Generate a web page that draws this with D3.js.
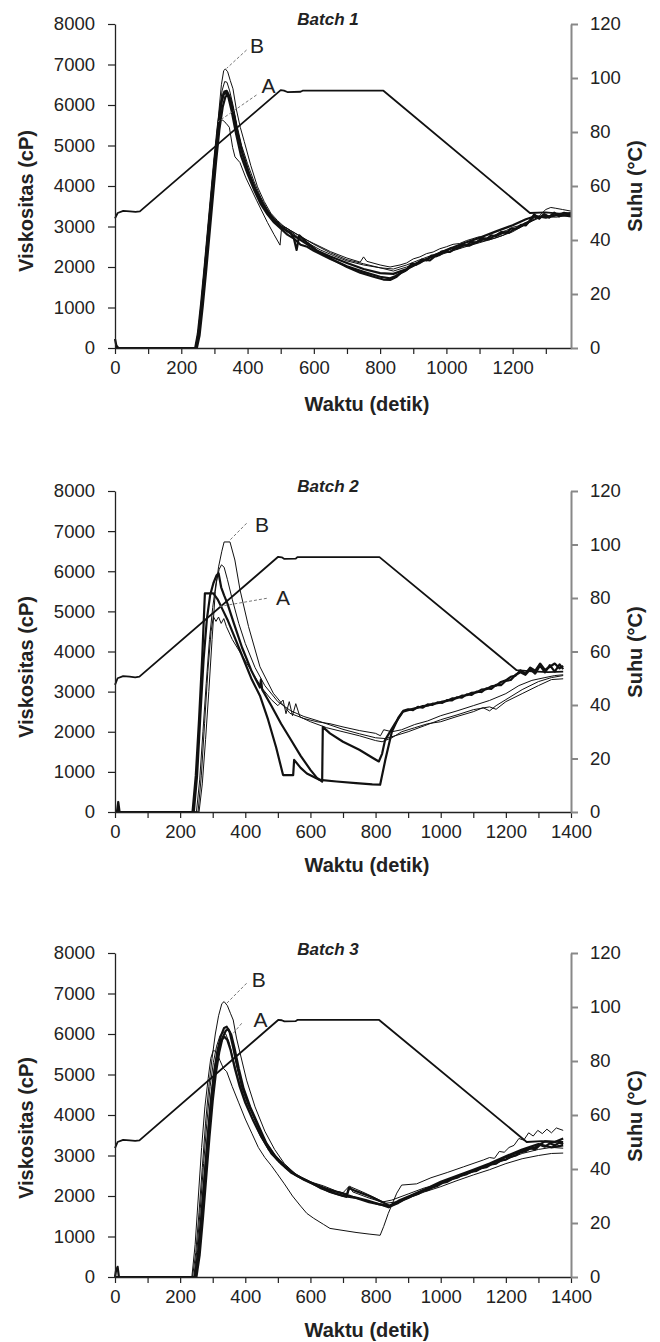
<!DOCTYPE html>
<html><head>
<meta charset="utf-8">
<title>Viskositas dan suhu per batch</title>
<script src="https://d3js.org/d3.v7.min.js"></script>
<style>
  body { margin: 0; background: #fff; }
  text { font-family: "Liberation Sans", Arial, sans-serif; fill: #222; }
  .tick text { font-size: 18.5px; }
  .axis-title { font-size: 20px; font-weight: bold; }
  .batch-title { font-size: 17px; font-weight: bold; font-style: italic; }
  .ab-label { font-size: 21px; }
  path.visc { fill: none; stroke: #111; stroke-linejoin: round; }
  path.temp { fill: none; stroke: #111; stroke-width: 1.8px; stroke-linejoin: round; }
  line.leader { stroke: #777; stroke-width: 1px; stroke-dasharray: 3 2; }
</style>
</head>
<body>
<svg id="chart" width="660" height="1342"></svg>

<script>
// ---- data: [waktu (detik), viskositas (cP)] or [waktu, suhu (°C)] ----

// Batch 1
const b1_temp = [[0,48],[8,50],[25,50.8],[45,50.6],[62,50.4],[75,50.6],[500,95.5],[510,95.3],[520,94.8],[560,94.9],[566,95.3],[810,95.3],[1252,50],[1300,50.2],[1340,49.8],[1376,50]];
const b1_s1 = [[0,220],[4,60],[10,0],[242,0],[250,350],[260,1100],[270,1950],[280,2850],[290,3750],[300,4650],[310,5450],[320,6050],[328,6280],[335,6300],[342,6200],[352,5850],[365,5300],[380,4750],[400,4300],[420,3900],[440,3550],[460,3300],[480,3100],[500,2950],[520,2800],[540,2700],[560,2550],[580,2500],[600,2400],[650,2200],[700,2020],[750,1880],[800,1760],[830,1720],[845,1770],[860,1840],[875,1900],[890,1990],[905,2050],[920,2100],[935,2180],[950,2160],[965,2260],[980,2300],[995,2380],[1010,2370],[1025,2450],[1040,2480],[1055,2540],[1070,2530],[1085,2600],[1100,2640],[1115,2700],[1130,2690],[1145,2770],[1160,2800],[1175,2860],[1190,2850],[1205,2940],[1220,2980],[1235,3060],[1250,3120],[1265,3250],[1280,3210],[1295,3300],[1310,3240],[1325,3320],[1340,3280],[1355,3340],[1376,3290]];
const b1_s2 = [[0,0],[247,0],[255,300],[265,1050],[275,1900],[285,2800],[295,3700],[305,4600],[315,5400],[325,5950],[333,6200],[340,6250],[348,6150],[358,5800],[370,5300],[385,4800],[405,4300],[425,3900],[445,3580],[465,3320],[485,3120],[505,2970],[530,2850],[540,2700],[548,2420],[556,2780],[580,2600],[610,2400],[650,2260],[700,2100],[750,1950],[800,1850],[840,1830],[880,1950],[920,2120],[960,2270],[1000,2420],[1050,2580],[1100,2720],[1150,2880],[1200,3030],[1240,3180],[1270,3260],[1300,3220],[1340,3290],[1376,3250]];
const b1_s3 = [[0,0],[244,0],[252,350],[262,1100],[272,2000],[282,2900],[292,3800],[302,4700],[312,5500],[322,6100],[330,6330],[337,6350],[345,6220],[355,5900],[368,5350],[383,4850],[400,4400],[420,3980],[440,3620],[460,3350],[480,3150],[500,3000],[520,2880],[550,2720],[580,2560],[620,2350],[660,2170],[700,2000],[740,1860],[780,1760],[810,1690],[830,1680],[850,1760],[865,1870],[880,1930],[895,2080],[910,2060],[925,2180],[940,2160],[955,2280],[970,2270],[985,2380],[1000,2400],[1015,2470],[1030,2450],[1045,2550],[1060,2530],[1075,2620],[1090,2600],[1105,2700],[1120,2680],[1135,2780],[1150,2760],[1165,2860],[1180,2840],[1195,2950],[1210,2940],[1225,3040],[1240,3030],[1255,3180],[1265,3300],[1280,3190],[1295,3300],[1310,3220],[1325,3340],[1340,3250],[1355,3330],[1376,3280]];
const b1_B = [[0,0],[245,0],[253,350],[263,1150],[273,2050],[283,2950],[293,3900],[303,4850],[313,5800],[321,6500],[328,6850],[333,6890],[340,6820],[348,6600],[356,6400],[366,5900],[378,5450],[390,5100],[410,4500],[430,3980],[450,3620],[470,3330],[490,3150],[510,3000],[540,2850],[570,2700],[600,2580],[650,2380],[700,2220],[740,2120],[750,2250],[760,2140],[800,2050],[830,2000],[860,2050],[880,2100],[900,2200],[920,2250],[940,2330],[960,2370],[980,2450],[1000,2500],[1020,2560],[1040,2580],[1060,2650],[1080,2700],[1100,2750],[1115,2720],[1130,2700],[1145,2780],[1160,2850],[1180,2900],[1200,2980],[1220,3020],[1240,3100],[1260,3150],[1280,3260],[1300,3420],[1315,3470],[1330,3450],[1350,3420],[1376,3380]];
const b1_s5 = [[0,0],[246,0],[254,350],[264,1100],[274,2000],[284,2900],[294,3850],[304,4800],[314,5700],[323,6350],[331,6580],[338,6560],[346,6350],[356,6000],[368,5500],[382,5000],[400,4550],[420,4100],[440,3720],[460,3420],[480,3200],[500,3050],[530,2900],[560,2760],[600,2560],[650,2350],[700,2180],[750,2080],[800,1980],[840,1950],[880,2050],[920,2180],[960,2300],[1000,2420],[1050,2520],[1100,2620],[1140,2700],[1170,2780],[1200,2900],[1240,3050],[1270,3200],[1300,3250],[1340,3300],[1376,3280]];
const b1_A = [[0,0],[243,0],[251,400],[261,1200],[271,2100],[281,3000],[291,3900],[301,4800],[311,5450],[318,5650],[326,5620],[335,5550],[345,5450],[355,4950],[362,4720],[377,4580],[395,4200],[427,3650],[460,3100],[480,2800],[498,2540],[503,3000],[520,2950],[550,2750],[580,2600],[620,2420],[660,2280],[700,2150],[750,2050],[800,1980],[840,1900],[880,2000],[920,2150],[960,2250],[1000,2350],[1050,2480],[1100,2600],[1150,2720],[1200,2870],[1250,3100],[1290,3250],[1330,3230],[1376,3280]];

// Batch 2
const b2_temp = [[0,47.5],[8,50],[25,50.8],[45,50.6],[62,50.3],[75,50.6],[501,95.4],[512,95.2],[520,94.6],[555,94.7],[560,95.3],[812,95.3],[1233,53],[1280,52.6],[1330,52.3],[1376,52.5]];
const b2_B = [[0,0],[258,0],[268,700],[278,1800],[288,3000],[298,4300],[308,5500],[318,6110],[328,6500],[335,6730],[353,6730],[368,6280],[384,5530],[410,4620],[445,3620],[486,2960],[537,2460],[580,2330],[620,2250],[660,2200],[700,2120],[750,2030],[800,1960],[815,1900],[825,2050],[850,2000],[880,2050],[920,2180],[960,2270],[1000,2400],[1050,2520],[1100,2650],[1150,2780],[1200,2950],[1240,3150],[1280,3280],[1320,3350],[1350,3400],[1376,3420]];
const b2_s2 = [[0,0],[250,0],[260,800],[270,2000],[280,3200],[290,4300],[300,5100],[310,5700],[320,6050],[327,6160],[335,6100],[345,5800],[360,5300],[380,4700],[400,4200],[430,3600],[460,3150],[500,2750],[540,2520],[580,2380],[620,2280],[660,2170],[700,2060],[750,1950],[800,1850],[830,1830],[860,1900],[900,2000],[950,2150],[1000,2300],[1050,2420],[1100,2550],[1150,2620],[1170,2560],[1200,2750],[1250,2950],[1300,3150],[1340,3300],[1376,3320]];
const b2_A = [[0,0],[255,0],[265,900],[275,2200],[285,3500],[295,4500],[302,4870],[310,4750],[318,4860],[326,4700],[334,4820],[342,4620],[360,4300],[390,3900],[420,3500],[450,3100],[480,2800],[500,2650],[516,2790],[525,2450],[535,2750],[545,2400],[555,2700],[568,2370],[600,2250],[650,2100],[700,2000],[750,1900],[800,1780],[820,1750],[850,1850],[880,2000],[920,2100],[960,2200],[1000,2250],[1050,2380],[1100,2500],[1130,2600],[1150,2520],[1170,2650],[1200,2800],[1250,3050],[1300,3250],[1340,3350],[1376,3400]];
const b2_s4 = [[0,0],[6,0],[10,250],[14,0],[238,0],[248,900],[258,2300],[268,3900],[276,5450],[302,5450],[315,5300],[330,5050],[345,4800],[365,4400],[390,3900],[420,3300],[445,2900],[470,2300],[495,1600],[516,920],[547,920],[550,1300],[570,1100],[589,960],[629,800],[680,760],[740,720],[790,690],[814,680],[830,1300],[850,2000],[870,2350],[885,2520],[900,2560],[915,2540],[930,2620],[945,2600],[960,2680],[975,2670],[990,2730],[1005,2720],[1020,2790],[1035,2780],[1050,2860],[1065,2850],[1080,2930],[1095,2920],[1110,3000],[1125,2990],[1140,3080],[1155,3070],[1170,3170],[1185,3160],[1200,3270],[1215,3290],[1230,3420],[1245,3480],[1260,3420],[1275,3560],[1290,3450],[1305,3650],[1320,3480],[1335,3660],[1350,3500],[1365,3680],[1376,3560]];
const b2_s5 = [[0,0],[242,0],[252,900],[262,2400],[272,3800],[282,4800],[292,5400],[302,5700],[312,5900],[318,5950],[326,5600],[335,5400],[345,5200],[365,4700],[390,4100],[420,3500],[445,3100],[448,3300],[452,3050],[480,2650],[510,2200],[540,1800],[570,1400],[600,1050],[620,850],[636,760],[638,2120],[660,1960],[700,1750],[750,1550],[793,1340],[810,1260],[820,1450],[829,1790],[860,2210],[884,2500],[900,2540],[915,2570],[930,2600],[945,2640],[960,2650],[975,2700],[990,2710],[1005,2750],[1020,2770],[1035,2830],[1050,2840],[1065,2900],[1080,2910],[1095,2970],[1110,2980],[1125,3050],[1140,3060],[1155,3130],[1170,3150],[1185,3240],[1200,3280],[1215,3370],[1230,3400],[1245,3530],[1260,3450],[1275,3600],[1290,3520],[1305,3700],[1320,3540],[1335,3620],[1350,3700],[1365,3580],[1376,3640]];

// Batch 3
const b3_temp = [[0,47.7],[8,50],[25,50.8],[45,50.6],[62,50.4],[75,50.6],[501,95.2],[512,95.1],[520,94.7],[555,94.8],[560,95.2],[811,95.2],[1264,50],[1310,50.3],[1376,50]];
const b3_B = [[0,0],[238,0],[248,600],[258,1600],[268,2700],[278,3800],[288,4700],[298,5400],[308,6000],[318,6450],[328,6750],[335,6800],[345,6700],[355,6500],[363,6345],[373,5900],[384,5530],[404,4860],[430,4200],[460,3600],[490,3150],[520,2800],[560,2500],[600,2320],[650,2150],[700,2080],[720,2250],[730,2100],[780,1950],[820,1850],[850,1900],[900,2050],[950,2200],[1000,2300],[1050,2450],[1100,2600],[1150,2750],[1200,2900],[1250,3050],[1300,3150],[1340,3200],[1376,3180]];
const b3_s2 = [[0,0],[3,150],[8,250],[12,0],[245,0],[255,600],[265,1500],[275,2500],[285,3500],[295,4400],[305,5100],[315,5600],[325,5950],[335,6150],[343,6180],[352,6050],[362,5700],[375,5200],[390,4700],[410,4250],[435,3800],[460,3350],[490,3000],[520,2750],[550,2550],[580,2400],[620,2250],[660,2100],[700,2000],[740,1950],[780,1850],[820,1780],[840,1720],[855,1780],[870,1830],[885,1900],[900,1950],[915,2010],[930,2050],[945,2120],[960,2150],[975,2210],[990,2250],[1005,2320],[1020,2350],[1035,2420],[1050,2450],[1065,2510],[1080,2540],[1095,2600],[1110,2620],[1125,2690],[1140,2710],[1155,2780],[1170,2800],[1185,2880],[1200,2900],[1215,2970],[1230,3000],[1245,3080],[1260,3100],[1275,3180],[1290,3150],[1305,3260],[1320,3220],[1335,3300],[1350,3250],[1365,3320],[1376,3280]];
const b3_s3 = [[0,0],[250,0],[260,550],[270,1450],[280,2450],[290,3450],[300,4350],[310,5050],[320,5550],[330,5900],[340,6080],[348,6120],[357,5980],[367,5650],[380,5150],[395,4650],[415,4200],[440,3750],[465,3300],[495,2950],[525,2700],[555,2520],[590,2380],[630,2200],[670,2080],[710,1980],[718,2200],[740,2120],[780,2000],[820,1850],[845,1750],[875,1870],[910,2000],[960,2180],[1000,2320],[1050,2480],[1100,2620],[1150,2780],[1200,2960],[1250,3120],[1290,3200],[1320,3350],[1350,3330],[1376,3420]];
const b3_s4 = [[0,0],[247,0],[257,650],[267,1600],[277,2600],[287,3600],[297,4500],[307,5150],[317,5600],[327,5850],[336,5930],[345,5850],[355,5600],[368,5150],[383,4700],[400,4300],[425,3850],[450,3450],[480,3050],[510,2800],[540,2580],[570,2450],[610,2300],[650,2180],[690,2080],[730,1980],[770,1900],[810,1800],[840,1750],[870,1880],[910,2020],[960,2200],[1000,2350],[1050,2500],[1100,2650],[1150,2800],[1200,2980],[1250,3150],[1300,3280],[1340,3200],[1376,3250]];
const b3_A = [[0,0],[236,0],[246,800],[256,2000],[266,3200],[276,4200],[286,4900],[294,5400],[302,5600],[312,5550],[322,5350],[333,5150],[343,5070],[360,4700],[380,4300],[400,3900],[420,3550],[440,3200],[460,2950],[480,2750],[497,2560],[520,2300],[545,2000],[570,1750],[589,1570],[610,1450],[640,1300],[660,1200],[700,1150],[740,1100],[780,1060],[814,1030],[825,1250],[839,1570],[865,2070],[880,2270],[926,2300],[970,2450],[1020,2580],[1070,2720],[1131,2890],[1150,2950],[1165,2930],[1180,3100],[1195,3080],[1210,3200],[1225,3250],[1240,3420],[1255,3380],[1270,3560],[1284,3480],[1298,3620],[1312,3540],[1326,3650],[1340,3560],[1355,3680],[1376,3620]];
const b3_s6 = [[0,0],[242,0],[252,700],[262,1700],[272,2800],[282,3800],[292,4700],[302,5300],[312,5700],[322,5950],[332,6050],[340,6000],[350,5800],[362,5400],[378,4900],[398,4400],[420,3950],[445,3500],[470,3150],[500,2850],[530,2650],[560,2480],[600,2350],[640,2250],[680,2120],[715,2050],[722,2230],[760,2100],[800,1950],[830,1820],[860,1850],[900,1950],[950,2100],[1000,2230],[1050,2380],[1100,2520],[1150,2650],[1200,2800],[1250,2920],[1300,3000],[1340,3050],[1376,3060]];

// axis tick values
const viscTicks = d3.range(0, 8001, 1000);
const tempTicks = d3.range(0, 121, 20);

// A / B annotations: text position, leader start, leader end (data units)
const b1_notes = [{txt: "B", at: [407, 7284], from: [397, 7358], to: [337, 6906]},
                  {txt: "A", at: [442, 6304], from: [427, 6247], to: [311, 5588]}];
const b2_notes = [{txt: "B", at: [430, 6986], from: [404, 7195], to: [348, 6736]},
                  {txt: "A", at: [494, 5159], from: [466, 5326], to: [317, 5117]}];
const b3_notes = [{txt: "B", at: [420, 7168], from: [404, 7252], to: [343, 6758]},
                  {txt: "A", at: [425, 6180], from: [389, 6264], to: [363, 6017]}];

// ---- layout of the three stacked panels ----
const panels = [
  { title: "Batch 1", top: 24,  bottom: 348,  xMax: 1376, xTicks: d3.range(0, 1301, 100),
    titleY: 25, xTitleY: 411, yTitleY: 201, sTitleY: 186,
    temp: b1_temp, notes: b1_notes,
    series: [[b1_A, 1], [b1_s5, 1], [b1_B, 1], [b1_s2, 2.2], [b1_s3, 2.2], [b1_s1, 2.2]] },
  { title: "Batch 2", top: 491, bottom: 812,  xMax: 1400, xTicks: d3.range(0, 1401, 100),
    titleY: 492, xTitleY: 872, yTitleY: 667, sTitleY: 652,
    temp: b2_temp, notes: b2_notes,
    series: [[b2_A, 1], [b2_s2, 1], [b2_B, 1], [b2_s4, 2.2], [b2_s5, 2.2]] },
  { title: "Batch 3", top: 953, bottom: 1277, xMax: 1400, xTicks: d3.range(0, 1401, 100),
    titleY: 955, xTitleY: 1337, yTitleY: 1128, sTitleY: 1116,
    temp: b3_temp, notes: b3_notes,
    series: [[b3_A, 1], [b3_s6, 1], [b3_B, 1], [b3_s4, 2.2], [b3_s3, 2.2], [b3_s2, 2.2]] }
];

const svg = d3.select("#chart");
const left = 115, right = 571;

panels.forEach(p => {
  const g = svg.append("g");

  const x = d3.scaleLinear().domain([0, p.xMax]).range([left, right]);
  const yV = d3.scaleLinear().domain([0, 8000]).range([p.bottom, p.top]);
  const yT = d3.scaleLinear().domain([0, 120]).range([p.bottom, p.top]);

  // viscosity curves
  const lineV = d3.line().x(d => x(d[0])).y(d => yV(d[1]));
  g.selectAll("path.visc").data(p.series)
    .join("path")
    .attr("class", "visc")
    .attr("stroke-width", d => d[1])
    .attr("d", d => lineV(d[0]));

  // temperature profile on the right axis
  const lineT = d3.line().x(d => x(d[0])).y(d => yT(d[1]));
  g.append("path").attr("class", "temp").attr("d", lineT(p.temp));

  // axes
  const xAxis = g.append("g")
    .attr("transform", `translate(0,${p.bottom})`)
    .call(d3.axisBottom(x).tickValues(p.xTicks).tickSize(6).tickSizeOuter(0).tickPadding(7)
            .tickFormat(d => d % 200 === 0 ? d : ""));
  xAxis.select(".domain").attr("stroke", "#222").attr("stroke-width", 1.3);
  xAxis.selectAll(".tick line").attr("stroke", "#222").attr("stroke-width", 1.2);

  const yAxisL = g.append("g")
    .attr("transform", `translate(${left},0)`)
    .call(d3.axisLeft(yV).tickValues(viscTicks).tickSize(7).tickSizeOuter(0).tickPadding(13)
            .tickFormat(d3.format("d")));
  yAxisL.select(".domain").attr("stroke", "#222").attr("stroke-width", 1.3);
  yAxisL.selectAll(".tick line").attr("stroke", "#222").attr("stroke-width", 1.2);

  const yAxisR = g.append("g")
    .attr("transform", `translate(${right},0)`)
    .call(d3.axisRight(yT).tickValues(tempTicks).tickSize(7).tickSizeOuter(0).tickPadding(12));
  yAxisR.select(".domain").attr("stroke", "#888").attr("stroke-width", 2);
  yAxisR.selectAll(".tick line").attr("stroke", "#888").attr("stroke-width", 2);

  g.selectAll(".tick text").attr("fill", "#222").style("font-family", "'Liberation Sans', Arial, sans-serif");
  g.selectAll(".tick text").attr("font-size", null);

  // titles
  g.append("text").attr("class", "batch-title")
    .attr("x", 328).attr("y", p.titleY).attr("text-anchor", "middle").text(p.title);
  g.append("text").attr("class", "axis-title")
    .attr("x", 367).attr("y", p.xTitleY).attr("text-anchor", "middle").text("Waktu (detik)");
  g.append("text").attr("class", "axis-title")
    .attr("transform", `translate(33,${p.yTitleY}) rotate(-90)`)
    .attr("text-anchor", "middle").text("Viskositas (cP)");
  g.append("text").attr("class", "axis-title")
    .attr("transform", `translate(642,${p.sTitleY}) rotate(-90)`)
    .attr("text-anchor", "middle").text("Suhu (°C)");

  // A / B leaders and labels
  g.selectAll("line.leader").data(p.notes).join("line")
    .attr("class", "leader")
    .attr("x1", d => x(d.from[0])).attr("y1", d => yV(d.from[1]))
    .attr("x2", d => x(d.to[0])).attr("y2", d => yV(d.to[1]));
  g.selectAll("text.ab-label").data(p.notes).join("text")
    .attr("class", "ab-label")
    .attr("x", d => x(d.at[0])).attr("y", d => yV(d.at[1]))
    .text(d => d.txt);
});
</script>
</body>
</html>
